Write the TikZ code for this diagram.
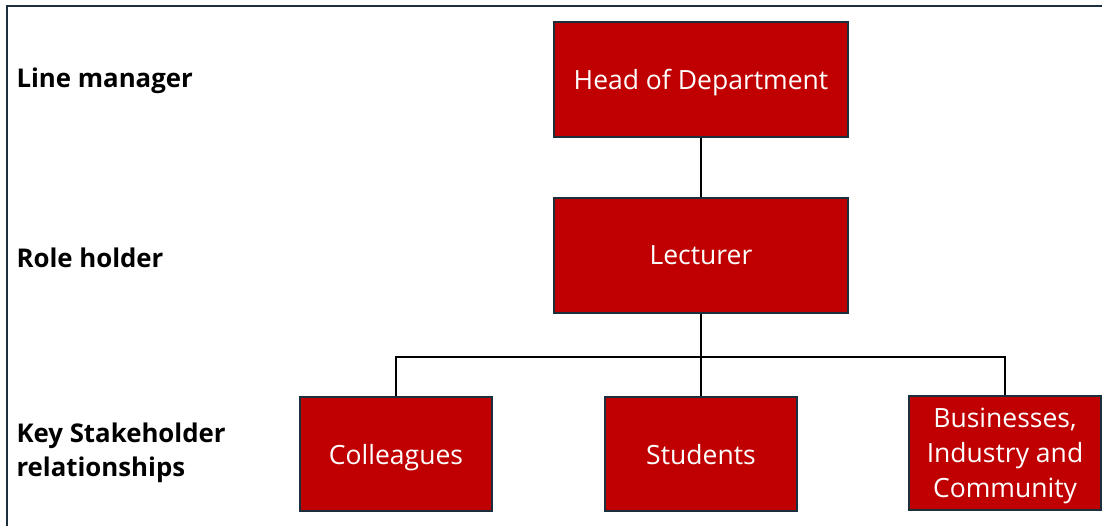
\documentclass[tikz,border=0pt]{standalone}
\usepackage{fontspec}
\setmainfont{Open Sans}
\usepackage{tikz}

\definecolor{boxred}{HTML}{C00000}
\definecolor{edgeblue}{HTML}{1B2F3C}

\begin{document}
\begin{tikzpicture}[x=1pt,y=-1pt,
  role/.style={draw=edgeblue,line width=2pt,fill=boxred,text=white,
    minimum width=294pt,minimum height=115pt,align=center,text depth=0pt,
    font=\fontsize{26.5}{35}\selectfont},
  stake/.style={role,minimum width=192pt,minimum height=114pt},
  level/.style={anchor=west,align=left,font=\fontsize{25.8}{34}\selectfont\bfseries},
  link/.style={line width=1.5pt,black}]
  \useasboundingbox (0,0) rectangle (1102,526);

  % Frame
  \draw[edgeblue,line width=2pt] (7,526) -- (7,6) -- (1102,6);

  % Levels
  \node[level] (lm) at (13,81) {Line manager};
  \node[level] (rh) at (13,258) {Role holder};
  \node[level] (ks) at (13,453) {Key Stakeholder\\relationships};

  % Boxes
  \node[role] (hod) at (701,79.5) {Head of Department};
  \node[role] (lec) at (701,255.5) {Lecturer};
  \node[stake] (col) at (396,454) {Colleagues};
  \node[stake] (stu) at (701,454) {Students};
  \node[stake] (biz) at (1005,453) {Businesses,\\Industry and\\Community};

  % Lines
  \coordinate (bar) at (701,357);
  \draw[link] (hod) -- (lec);
  \draw[link] (lec) -- (bar);
  \draw[link] (bar) -| (col);
  \draw[link] (bar) -- (stu);
  \draw[link] (bar) -| (biz);
\end{tikzpicture}
\end{document}
